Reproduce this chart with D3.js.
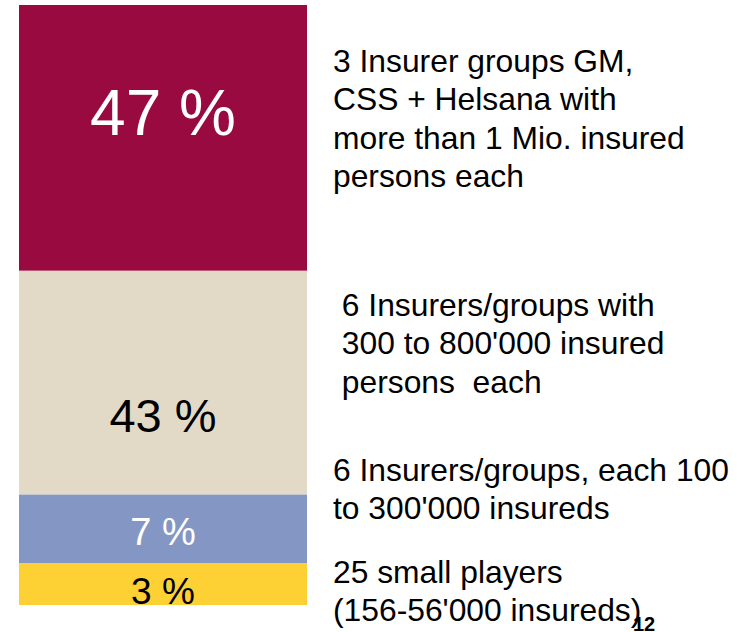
<!DOCTYPE html>
<html>
<head>
<meta charset="utf-8">
<script src="https://cdn.jsdelivr.net/npm/d3@7"></script>
<style>
  body{margin:0;background:#fff;}
  svg{display:block;font-family:"Liberation Sans",Arial,sans-serif;}
</style>
</head>
<body>
<div id="chart"></div>
<script>
const width=737;
const height=632;

// shares as printed on the bar
const pctLabels=[47,43,7,3];
// extent of each segment as drawn in the picture (%)
const barShare=[44.3,37.3,11.4,7.0];
const colors=["#990a40","#e2dac6","#8497c4","#fdd033"];
const labelColors=["#fff","#000","#fff","#000"];
const descriptions=[
  ["3 Insurer groups GM,","CSS + Helsana with","more than 1 Mio. insured","persons each"],
  [" 6 Insurers/groups with"," 300 to 800'000 insured"," persons  each"],
  ["6 Insurers/groups, each 100","to 300'000 insureds"],
  ["25 small players","(156-56'000 insureds)"]
];
const pageNo="12";

const svg=d3.select("#chart")
  .append("svg")
  .attr("width",width)
  .attr("height",height);

//stack the segments
let acc=0;
const segs=barShare.map((v,i)=>{
  const s={i:i,y0:acc,y1:acc+v};
  acc+=v;
  return s;
});

const y=d3.scaleLinear().domain([0,100]).range([5,605]);
const x0=19, x1=307;

svg.append("g")
  .selectAll("rect")
  .data(segs)
  .enter()
  .append("rect")
  .attr("x",x0)
  .attr("width",x1-x0)
  .attr("y",d=>y(d.y0))
  .attr("height",d=>y(d.y1)-y(d.y0))
  .attr("fill",d=>colors[d.i]);

// percentage labels inside bar
const labelSize=[64,47,38,37];
const labelBase=[135,432,545,604];
svg.append("g")
  .selectAll("text")
  .data(pctLabels)
  .enter()
  .append("text")
  .attr("x",(x0+x1)/2)
  .attr("y",(d,i)=>labelBase[i])
  .attr("text-anchor","middle")
  .attr("font-size",(d,i)=>labelSize[i])
  .attr("fill",(d,i)=>labelColors[i])
  .text(d=>d+" %");

// descriptions on the right
const descX=333;
const descTop=[72,316,481,583];
const lineH=38.3;
descriptions.forEach((lines,i)=>{
  const t=svg.append("text")
    .attr("x",descX)
    .attr("y",descTop[i])
    .attr("font-size",31.8)
    .attr("fill","#000")
    .attr("xml:space","preserve");
  t.selectAll("tspan")
    .data(lines)
    .enter()
    .append("tspan")
    .attr("x",descX)
    .attr("dy",(d,j)=>j===0?0:lineH)
    .text(d=>d);
});

svg.append("text")
  .attr("x",633)
  .attr("y",631)
  .attr("font-size",20)
  .attr("font-weight","bold")
  .text(pageNo);
</script>
</body>
</html>
